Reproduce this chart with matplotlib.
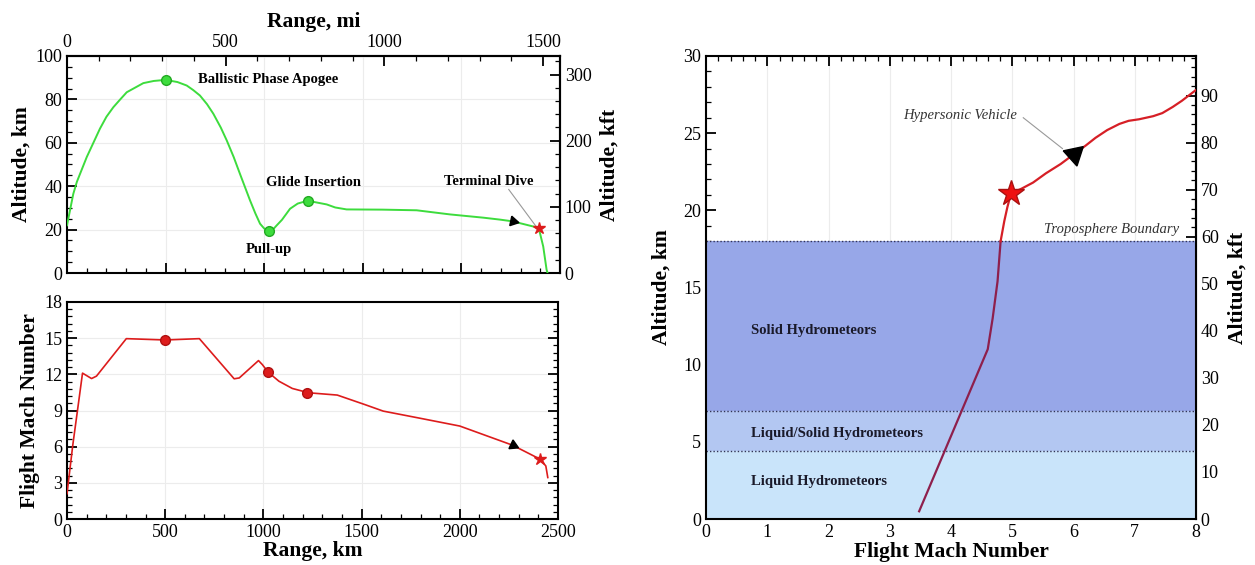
import numpy as np
import matplotlib
matplotlib.use("Agg")
import matplotlib.pyplot as plt
from matplotlib.ticker import MultipleLocator

plt.rcParams['font.family'] = ['Liberation Serif', 'DejaVu Serif']

# ---- altitude vs range (top left)
range_alt_km = [0, 32, 50, 100, 167, 200, 235, 270, 303, 387, 440, 500, 560, 607, 640, 674, 710,
                742, 780, 810, 845, 877, 905, 928, 955, 979, 1000, 1024, 1040, 1063, 1090, 1131,
                1170, 1220, 1260, 1317, 1360, 1418, 1600, 1773, 1942, 2111, 2196, 2260,
                2392, 2415, 2432, 2437]
alt_km = [22.0, 36.5, 42.0, 53.4, 66.5, 72.0, 76.4, 80.0, 83.3, 87.5, 88.5, 89.0, 88.0, 86.4, 84.3, 81.8, 77.8,
          73.4, 67.0, 61.1, 53.5, 45.7, 39.0, 33.5, 27.5, 22.7, 20.5, 19.3, 19.6, 21.9, 24.5, 29.6,
          32.0, 33.3, 32.6, 31.6, 30.2, 29.3, 29.2, 28.9, 27.0, 25.5, 24.6, 23.8,
          20.8, 12.2, 1.5, 0.0]

# key events: apogee, pull-up, glide insertion
event_range = [500, 1024, 1220]
event_alt = [89.0, 19.3, 33.3]
event_mach = [14.85, 12.18, 10.47]
dive_range = 2395
dive_alt = 20.8
dive_mach = 4.96
arrow_range = 2262
arrow_alt = 23.8
arrow_mach = 6.12

# ---- mach vs range (bottom left)
range_mach_km = [0, 30, 60, 79, 125, 150, 302, 500, 674, 851, 877, 975, 995, 1024, 1079,
                 1147, 1230, 1376, 1515, 1610, 1800, 2000, 2269, 2409, 2438, 2448]
mach_range = [2.1, 6.2, 9.8, 12.1, 11.65, 11.85, 14.96, 14.85, 14.96, 11.63, 11.7, 13.14, 12.8, 12.18, 11.43,
              10.83, 10.47, 10.28, 9.5, 8.95, 8.35, 7.71, 6.12, 4.96, 4.4, 3.44]

# ---- altitude vs mach (right)
traj_mach = [3.48, 4.6, 4.68, 4.76, 4.81, 4.87, 4.92, 4.98, 5.15, 5.34, 5.55, 5.79, 6.01,
             6.2, 6.36, 6.55, 6.75, 6.9, 7.07, 7.3, 7.45, 7.62, 7.77, 8.0]
traj_alt = [0.5, 11.0, 13.0, 15.4, 18.0, 19.3, 20.2, 21.1, 21.4, 21.8, 22.4, 23.0, 23.65,
            24.2, 24.7, 25.2, 25.6, 25.8, 25.9, 26.1, 26.3, 26.7, 27.1, 27.8]
star_mach, star_alt = 4.98, 21.1
tri_mach, tri_alt = 6.0, 23.65

band_edges = [0, 4.4, 7.0, 18.0]
band_colors = ['#c9e4fa', '#b3c7f2', '#97a7e8']
band_labels = ['Liquid Hydrometeors', 'Liquid/Solid Hydrometeors', 'Solid Hydrometeors']
band_label_alt = [2.42, 5.55, 12.24]

KM_PER_MI = 1.609344
KFT_PER_KM = 3.28084

green = '#3ddc3d'
red = '#dd1c1c'
tick_fs = 13
lab_fs = 15.5
W, H = 1255, 565


def box(x0, x1, y0, y1):
    # pixel box -> figure fraction
    return [x0 / W, 1 - y1 / H, (x1 - x0) / W, (y1 - y0) / H]


def style(ax):
    ax.tick_params(which='both', direction='in', labelsize=tick_fs)
    ax.tick_params(which='major', length=7, width=1.3)
    ax.tick_params(which='minor', length=3.5, width=0.9)
    for s in ax.spines.values():
        s.set_linewidth(1.5)


fig = plt.figure(figsize=(W / 100, H / 100), dpi=100)

# top-left
ax1 = fig.add_axes(box(67, 560, 56, 273))
ax1.plot(range_alt_km, alt_km, color=green, lw=1.4, zorder=3)
ax1.plot(event_range, event_alt, 'o', color=green, mec='#22aa22', ms=7, zorder=4)
ax1.plot(dive_range, dive_alt, '*', color=red, ms=9, zorder=5)
ax1.plot(arrow_range, arrow_alt, marker=(3, 0, -102), color='black', ms=8, zorder=5)
ax1.set_xlim(0, 2500)
ax1.set_ylim(0, 100)
ax1.xaxis.set_major_locator(MultipleLocator(500))
ax1.xaxis.set_minor_locator(MultipleLocator(100))
ax1.yaxis.set_major_locator(MultipleLocator(20))
ax1.yaxis.set_minor_locator(MultipleLocator(5))
ax1.tick_params(axis='x', labelbottom=False, top=False, which='both')
ax1.tick_params(axis='y', right=False, which='both')
style(ax1)
ax1.grid(True, which='major', color='#ececec', lw=0.8, zorder=0)
ax1.set_ylabel('Altitude, km', fontsize=lab_fs, fontweight='bold', labelpad=3)
ax1.text(665, 89, 'Ballistic Phase Apogee', fontsize=10.5, fontweight='bold', va='center')
ax1.text(1251, 41.5, 'Glide Insertion', fontsize=10.5, fontweight='bold', ha='center', va='center')
ax1.text(1024, 10.8, 'Pull-up', fontsize=10.5, fontweight='bold', ha='center', va='center')
ax1.text(2140, 42.3, 'Terminal Dive', fontsize=10.5, fontweight='bold', ha='center', va='center')
ax1.plot([2240, 2376], [38.5, 21.8], color='#999999', lw=0.8)

top = ax1.secondary_xaxis('top', functions=(lambda x: x / KM_PER_MI, lambda x: x * KM_PER_MI))
top.xaxis.set_major_locator(MultipleLocator(500))
top.xaxis.set_minor_locator(MultipleLocator(100))
style(top)
top.set_xlabel('Range, mi', fontsize=lab_fs, fontweight='bold', labelpad=5)
right1 = ax1.secondary_yaxis('right', functions=(lambda y: y * KFT_PER_KM, lambda y: y / KFT_PER_KM))
right1.yaxis.set_major_locator(MultipleLocator(100))
right1.yaxis.set_minor_locator(MultipleLocator(20))
style(right1)
right1.set_ylabel('Altitude, kft', fontsize=lab_fs, fontweight='bold', labelpad=6)

# bottom-left
ax2 = fig.add_axes(box(67, 558, 302, 519))
ax2.plot(range_mach_km, mach_range, color=red, lw=1.2, zorder=3)
ax2.plot(event_range, event_mach, 'o', color=red, mec='#b01010', ms=7, zorder=4)
ax2.plot(dive_range + 14, dive_mach, '*', color=red, ms=9, zorder=5)
ax2.plot(arrow_range + 7, arrow_mach, marker=(3, 0, -115), color='black', ms=8, zorder=5)
ax2.set_xlim(0, 2500)
ax2.set_ylim(0, 18)
ax2.xaxis.set_major_locator(MultipleLocator(500))
ax2.xaxis.set_minor_locator(MultipleLocator(100))
ax2.yaxis.set_major_locator(MultipleLocator(3))
ax2.yaxis.set_minor_locator(MultipleLocator(0.6))
ax2.tick_params(which='both', right=True, top=False)
style(ax2)
ax2.grid(True, which='major', color='#ececec', lw=0.8, zorder=0)
ax2.set_xlabel('Range, km', fontsize=lab_fs, fontweight='bold', labelpad=0)
ax2.set_ylabel('Flight Mach Number', fontsize=lab_fs, fontweight='bold', labelpad=3)

# right
ax3 = fig.add_axes(box(706, 1196, 56, 519))
ax3.set_xlim(0, 8)
ax3.set_ylim(0, 30)
for lo, hi, c in zip(band_edges[:-1], band_edges[1:], band_colors):
    ax3.axhspan(lo, hi, color=c, lw=0, zorder=1)
for e in band_edges[1:]:
    ax3.axhline(e, color='#333355', lw=1.0, ls=(0, (1, 1.5)), zorder=2)
for lab, y in zip(band_labels, band_label_alt):
    ax3.text(0.74, y, lab, fontsize=10.5, fontweight='bold', color='#1a1a2a', va='center', zorder=3)
traj_mach = np.array(traj_mach)
traj_alt = np.array(traj_alt)
low = traj_alt <= 18.0
high = traj_alt >= 18.0
ax3.plot(traj_mach[low], traj_alt[low], color='#8e1f4c', lw=1.6, zorder=4)
ax3.plot(traj_mach[high], traj_alt[high], color='#d61f26', lw=1.6, zorder=4)
ax3.plot(star_mach, star_alt, '*', color='#ee1111', mec='#aa1111', ms=19, zorder=5)
ax3.plot(tri_mach, tri_alt, marker=(3, 0, -48), color='black', ms=17, zorder=5)
ax3.text(4.15, 26.17, 'Hypersonic Vehicle', fontsize=10.5, style='italic', ha='center', va='center', color='#333333')
ax3.plot([5.18, 5.82], [26.0, 24.0], color='#999999', lw=0.8, zorder=3)
ax3.text(7.72, 18.75, 'Troposphere Boundary', fontsize=10.5, style='italic', ha='right', va='center', color='#333333')
ax3.xaxis.set_major_locator(MultipleLocator(1))
ax3.xaxis.set_minor_locator(MultipleLocator(0.2))
ax3.yaxis.set_major_locator(MultipleLocator(5))
ax3.yaxis.set_minor_locator(MultipleLocator(1))
ax3.tick_params(which='both', top=True, right=False)
style(ax3)
ax3.grid(True, which='major', axis='x', color='#ececec', lw=0.8, zorder=0.5)
ax3.set_axisbelow(True)
ax3.set_xlabel('Flight Mach Number', fontsize=lab_fs, fontweight='bold', labelpad=1)
ax3.set_ylabel('Altitude, km', fontsize=lab_fs, fontweight='bold', labelpad=8)
right3 = ax3.secondary_yaxis('right', functions=(lambda y: y * KFT_PER_KM, lambda y: y / KFT_PER_KM))
right3.yaxis.set_major_locator(MultipleLocator(10))
right3.yaxis.set_minor_locator(MultipleLocator(2))
style(right3)
right3.set_ylabel('Altitude, kft', fontsize=lab_fs, fontweight='bold', labelpad=6)

fig.savefig('out.png', dpi=100)
